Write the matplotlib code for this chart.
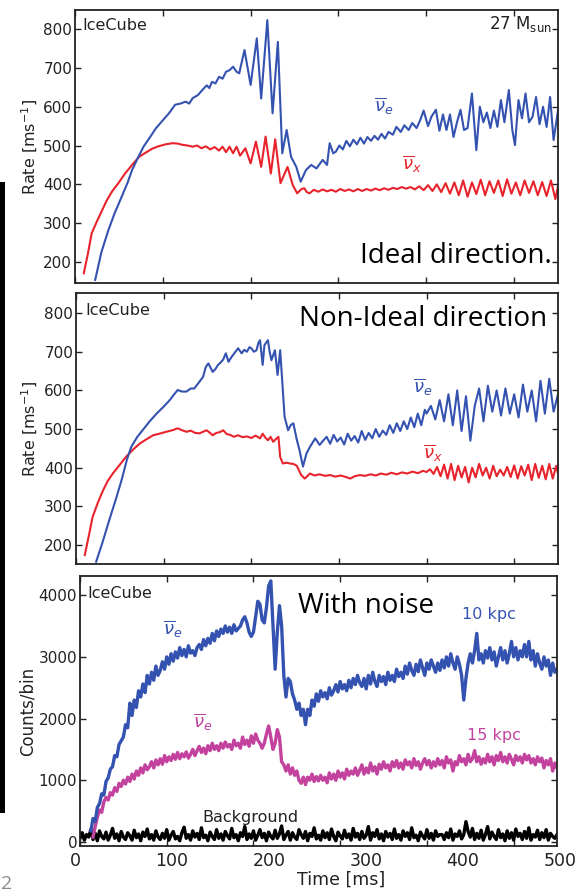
import numpy as np
import matplotlib
matplotlib.use('Agg')
import matplotlib.pyplot as plt
from matplotlib.patches import Rectangle

# ---- values (time in ms) ----

# panel 1: ideal direction, rate [1/ms]
ideal_nue_t = [23, 30, 38, 45, 52, 60, 65, 72, 78, 85, 92, 100, 107, 114, 120, 126, 130, 134, 140, 145,
               150, 153, 156, 160, 164, 168, 172, 176, 180, 184, 187, 193, 200, 207, 212, 219, 225, 231, 236, 241,
               246, 252, 257, 263, 269, 275, 282, 287, 290, 294, 297, 301, 305, 309, 313, 317, 321, 325, 329, 333,
               337, 341, 345, 349, 353, 357, 362, 366, 371, 375, 380, 384, 389, 393, 397, 402, 406, 411, 415, 419,
               423, 427, 431, 435, 439, 443, 447, 452, 457, 461, 465, 469, 473, 477, 481, 485, 489, 494, 498, 501,
               505, 509, 513, 517, 521, 525, 529, 533, 537, 541, 545, 550]
ideal_nue_rate = [154, 225, 282, 325, 362, 405, 437, 470, 497, 520, 544, 565, 583, 605, 608, 613, 608, 622, 630, 643,
                  655, 648, 664, 660, 677, 672, 690, 694, 703, 690, 686, 746, 656, 776, 621, 823, 583, 767, 480, 540,
                  471, 445, 407, 437, 450, 441, 463, 450, 506, 480, 484, 500, 490, 512, 498, 515, 503, 520, 505, 522,
                  512, 525, 515, 530, 518, 535, 528, 548, 535, 552, 540, 558, 545, 565, 590, 550, 575, 592, 538, 580,
                  540, 580, 522, 560, 592, 540, 545, 634, 488, 600, 560, 585, 545, 590, 548, 617, 560, 643, 540, 501,
                  617, 570, 634, 560, 574, 625, 555, 600, 548, 625, 514, 590]

ideal_nux_t = [10, 15, 19, 25, 31, 36, 42, 50, 57, 65, 73, 80, 88, 95, 103, 111, 117, 122, 128, 134,
               139, 144, 149, 154, 159, 164, 168, 172, 176, 180, 184, 188, 194, 200, 206, 212, 217, 223, 228, 234,
               242, 248, 253, 258, 261, 264, 267, 272, 277, 282, 287, 292, 297, 302, 307, 312, 317, 322, 327, 332,
               337, 342, 347, 352, 357, 362, 367, 372, 377, 382, 387, 392, 397, 402, 407, 412, 417, 422, 427, 432,
               437, 442, 447, 452, 457, 462, 467, 472, 477, 482, 487, 492, 497, 502, 507, 512, 517, 522, 527, 532,
               537, 542, 547, 550]
ideal_nux_rate = [171, 225, 274, 305, 334, 358, 381, 405, 428, 450, 471, 481, 492, 498, 503, 506, 505, 502, 500, 497,
                  500, 493, 498, 490, 496, 487, 497, 483, 497, 480, 497, 474, 493, 454, 510, 445, 523, 428, 516, 403,
                  445, 398, 377, 388, 390, 380, 377, 386, 381, 387, 382, 386, 381, 388, 383, 387, 382, 388, 383, 388,
                  384, 389, 385, 390, 386, 391, 388, 393, 389, 393, 387, 395, 385, 398, 383, 400, 380, 403, 376, 405,
                  372, 410, 368, 405, 375, 412, 372, 408, 378, 410, 370, 413, 376, 405, 372, 410, 378, 408, 372, 406,
                  370, 410, 362, 395]

# panel 2: non-ideal direction
nonideal_nue_t = [23, 30, 38, 45, 52, 58, 63, 70, 76, 84, 92, 100, 107, 112, 116, 121, 126, 131, 135, 140,
                  145, 148, 151, 156, 159, 162, 165, 168, 171, 174, 177, 179, 182, 185, 189, 192, 195, 198, 200, 203,
                  206, 208, 210, 213, 215, 219, 221, 223, 227, 230, 233, 236, 238, 242, 245, 248, 252, 255, 259, 263,
                  267, 273, 278, 282, 286, 290, 294, 298, 302, 306, 310, 314, 318, 322, 326, 330, 334, 338, 342, 346,
                  350, 354, 358, 362, 366, 370, 374, 378, 382, 386, 390, 394, 398, 400, 405, 410, 415, 420, 425, 430,
                  435, 440, 445, 450, 455, 460, 465, 470, 475, 480, 485, 490, 495, 500, 505, 510, 515, 520, 525, 530,
                  535, 540, 545, 550]
nonideal_nue_rate = [157, 205, 265, 315, 368, 420, 454, 480, 497, 520, 540, 558, 575, 590, 601, 597, 597, 605, 605, 620,
                     635, 660, 670, 648, 655, 666, 672, 680, 696, 674, 685, 691, 700, 709, 696, 705, 700, 712, 709, 700,
                     704, 722, 730, 666, 717, 730, 700, 678, 704, 640, 704, 601, 532, 497, 510, 515, 472, 446, 403, 437,
                     454, 476, 459, 470, 480, 462, 485, 468, 478, 460, 488, 470, 482, 465, 495, 472, 490, 476, 500, 480,
                     496, 485, 510, 490, 515, 495, 520, 500, 530, 505, 540, 510, 550, 540, 560, 525, 575, 520, 590, 510,
                     600, 495, 585, 470, 560, 605, 520, 612, 545, 600, 535, 605, 540, 590, 530, 615, 545, 600, 520, 625,
                     540, 630, 545, 590]

nonideal_nux_t = [10, 15, 19, 25, 31, 36, 42, 50, 57, 65, 73, 80, 88, 95, 103, 110, 116, 121, 126, 131,
                  136, 141, 145, 149, 153, 156, 160, 164, 168, 172, 176, 180, 185, 190, 195, 200, 205, 210, 213, 216,
                  219, 222, 225, 228, 231, 233, 236, 240, 244, 248, 252, 257, 261, 267, 272, 278, 284, 290, 296, 302,
                  308, 313, 318, 324, 330, 336, 342, 348, 354, 360, 366, 372, 378, 384, 390, 396, 400, 404, 408, 412,
                  416, 420, 424, 428, 432, 436, 440, 444, 448, 452, 456, 460, 464, 468, 472, 476, 480, 484, 488, 492,
                  496, 500, 504, 508, 512, 516, 520, 524, 528, 532, 536, 540, 544, 548, 550]
nonideal_nux_rate = [174, 228, 273, 310, 342, 365, 385, 408, 428, 447, 463, 473, 484, 488, 493, 497, 502, 497, 493, 496,
                     490, 489, 493, 497, 490, 484, 490, 492, 497, 487, 485, 480, 484, 479, 481, 477, 483, 476, 488, 478,
                     471, 480, 467, 474, 480, 428, 411, 413, 411, 410, 405, 381, 372, 385, 380, 383, 379, 381, 377, 380,
                     376, 372, 378, 381, 379, 383, 380, 385, 382, 387, 383, 388, 385, 390, 386, 392, 389, 396, 384, 402,
                     378, 408, 372, 410, 368, 405, 375, 402, 362, 400, 375, 410, 380, 400, 372, 405, 378, 395, 380, 402,
                     376, 406, 372, 404, 380, 408, 368, 410, 374, 405, 370, 410, 372, 405, 385]

# panel 3: with noise, counts per bin (2.5 ms bins)
t_10kpc = np.arange(12.5, 550.1, 2.5)
counts_10kpc = [180, 380, 330, 560, 620, 780, 760, 980, 1040, 1180, 1220, 1400, 1380, 1580, 1640, 1700, 1900, 1850, 2250, 2050,
                2300, 2180, 2450, 2350, 2560, 2420, 2700, 2560, 2750, 2620, 2850, 2700, 2780, 2920, 2800, 3000, 2880, 3050, 2930, 3080,
                2980, 3150, 3020, 3120, 3000, 3180, 3060, 3100, 3020, 3150, 3200, 3120, 3280, 3180, 3300, 3220, 3380, 3260, 3420, 3330,
                3450, 3380, 3500, 3400, 3480, 3380, 3520, 3420, 3460, 3500, 3600, 3650, 3550, 3400, 3330, 3400, 3650, 3900, 3850, 3600,
                3550, 3800, 4150, 4230, 3500, 2800, 3400, 3830, 3500, 2700, 2350, 2650, 2600, 2400, 2300, 2150, 2250, 2050, 2150, 1900,
                2150, 2050, 2300, 2200, 2400, 2280, 2450, 2350, 2420, 2320, 2500, 2380, 2450, 2550, 2430, 2600, 2480, 2550, 2450, 2620,
                2500, 2650, 2550, 2700, 2580, 2520, 2650, 2480, 2700, 2560, 2750, 2600, 2520, 2700, 2600, 2680, 2550, 2750, 2620, 2700,
                2600, 2800, 2680, 2750, 2650, 2850, 2720, 2900, 2780, 2700, 2880, 2760, 2950, 2820, 2700, 2900, 2800, 2950, 2850, 2750,
                2900, 2780, 2950, 2820, 3000, 2850, 3050, 2900, 2800, 3000, 2880, 2700, 2300, 2650, 2900, 3050, 2900, 3100, 3380, 2950,
                3050, 2900, 3100, 2980, 3150, 2950, 3080, 2850, 3000, 3150, 2950, 3100, 2900, 3050, 3250, 3000, 3150, 2950, 3100, 3000,
                3200, 3000, 3250, 2950, 3100, 2850, 3050, 2900, 2800, 3000, 2850, 2950, 2700, 2900, 2750, 2800]

t_15kpc = np.arange(15, 550.1, 2.5)
counts_15kpc = [80, 250, 400, 520, 480, 650, 720, 680, 800, 760, 880, 820, 950, 900, 1000, 940, 1050, 980, 1100, 1020,
                1150, 1080, 1200, 1120, 1250, 1170, 1220, 1300, 1200, 1330, 1250, 1350, 1260, 1400, 1300, 1380, 1320, 1420, 1340, 1450,
                1350, 1430, 1380, 1460, 1360, 1420, 1500, 1400, 1480, 1550, 1450, 1520, 1430, 1560, 1480, 1600, 1500, 1560, 1480, 1600,
                1520, 1620, 1540, 1580, 1500, 1650, 1560, 1600, 1520, 1700, 1580, 1650, 1550, 1720, 1600, 1750, 1650, 1600, 1520, 1600,
                1750, 1880, 1700, 1500, 1600, 1820, 1700, 1300, 1250, 1150, 1250, 1100, 1200, 1080, 1150, 1000, 950, 1050, 930, 1050,
                1000, 1100, 980, 1060, 990, 1080, 1000, 1050, 960, 1120, 1020, 1100, 1000, 1150, 1050, 1120, 1020, 1180, 1080, 1150,
                1100, 1200, 1080, 1160, 1250, 1100, 1200, 1120, 1280, 1150, 1220, 1100, 1260, 1180, 1300, 1200, 1250, 1150, 1300, 1220,
                1320, 1200, 1280, 1180, 1330, 1250, 1300, 1200, 1350, 1240, 1300, 1180, 1280, 1350, 1250, 1320, 1200, 1300, 1230, 1350,
                1250, 1320, 1200, 1380, 1280, 1330, 1150, 1300, 1250, 1400, 1300, 1350, 1250, 1420, 1300, 1350, 1480, 1300, 1380, 1260,
                1350, 1280, 1420, 1300, 1380, 1250, 1400, 1320, 1450, 1300, 1380, 1280, 1420, 1340, 1250, 1400, 1320, 1380, 1280, 1420,
                1330, 1400, 1280, 1350, 1250, 1380, 1300, 1360, 1200, 1320, 1250, 1350, 1150, 1280, 1200]

t_bkg = np.arange(0, 550.1, 2.5)
counts_bkg = [60, 150, 30, 120, 80, 200, 40, 140, 20, 180, 90, 50, 160, 30, 110, 220, 60, 130, 20, 170,
              80, 40, 150, 100, 30, 190, 70, 130, 20, 160, 90, 210, 50, 120, 30, 180, 80, 40, 140, 60,
              200, 30, 110, 170, 50, 90, 20, 150, 240, 60, 120, 30, 180, 80, 140, 40, 230, 70, 110, 20,
              160, 90, 40, 200, 60, 130, 30, 170, 100, 50, 220, 70, 120, 20, 150, 90, 250, 40, 130, 60,
              180, 30, 110, 200, 70, 140, 20, 160, 90, 50, 190, 60, 130, 260, 40, 110, 170, 30, 150, 80,
              40, 200, 120, 60, 170, 20, 140, 90, 230, 50, 110, 30, 180, 70, 150, 40, 210, 90, 20, 160,
              100, 50, 190, 70, 130, 30, 220, 80, 140, 40, 170, 60, 110, 250, 30, 150, 90, 200, 50, 130,
              20, 170, 80, 140, 40, 210, 60, 120, 30, 180, 90, 150, 40, 230, 70, 110, 20, 160, 100, 50,
              200, 60, 140, 30, 180, 90, 120, 120, 40, 150, 70, 210, 30, 130, 90, 180, 50, 120, 330, 170,
              80, 220, 40, 140, 60, 190, 30, 120, 250, 50, 160, 90, 40, 200, 70, 130, 20, 180, 60, 150,
              30, 210, 90, 140, 40, 170, 60, 230, 30, 120, 80, 190, 40, 150, 70, 200, 30, 140, 90, 60, 120]

time_ticks = [0, 100, 200, 300, 400, 500]

# ---- style ----
plt.rcParams['font.family'] = 'DejaVu Sans'
plt.rcParams['mathtext.fontset'] = 'dejavusans'

blue = '#3452b0'
red = '#e8232b'
magenta = '#c2429e'
ink = '#222222'
big_font = 'Open Sans'

W, H = 576, 892
fig = plt.figure(figsize=(W / 100, H / 100), dpi=100)


def box(l, t, r, b):
    # pixel box -> figure fraction rect
    return [l / W, (H - b) / H, (r - l) / W, (b - t) / H]


def style(ax, ylim, yticks):
    ax.set_xlim(0, 550)
    ax.set_ylim(*ylim)
    ax.set_xticks(time_ticks)
    ax.set_yticks(yticks)
    ax.tick_params(direction='in', top=True, right=True, length=4, width=1.0,
                   labelbottom=False, labelsize=11, pad=2, color=ink, labelcolor=ink)
    for s in ax.spines.values():
        s.set_linewidth(1.3)
        s.set_color(ink)


ax1 = fig.add_axes(box(75, 10, 558, 283))
ax2 = fig.add_axes(box(76, 293, 558, 564))
ax3 = fig.add_axes(box(80, 576, 557, 846))

rate_ticks = [200, 300, 400, 500, 600, 700, 800]

# panel 1
ax1.plot(ideal_nux_t, ideal_nux_rate, color=red, lw=1.5)
ax1.plot(ideal_nue_t, ideal_nue_rate, color=blue, lw=1.5)
style(ax1, (146, 849), rate_ticks)
ax1.set_ylabel('Rate [ms$^{-1}$]', fontsize=11.5, color=ink)
ax1.yaxis.set_label_coords(-0.072, 0.5)
ax1.text(0.015, 0.945, 'IceCube', transform=ax1.transAxes, fontsize=11.5, va='center', color=ink)
ax1.text(0.988, 0.93, r'27 M$_{\rm sun}$', transform=ax1.transAxes, fontsize=12, ha='right',
         va='baseline', color=ink)
ax1.text(0.988, 0.073, 'Ideal direction.', transform=ax1.transAxes, fontsize=20, ha='right',
         va='baseline', family=big_font)
ax1.text(0.619, 0.626, r'$\overline{\nu}_e$', transform=ax1.transAxes, fontsize=13, color=blue, va='baseline')
ax1.text(0.677, 0.414, r'$\overline{\nu}_x$', transform=ax1.transAxes, fontsize=13, color=red, va='baseline')

# panel 2
ax2.plot(nonideal_nux_t, nonideal_nux_rate, color=red, lw=1.5)
ax2.plot(nonideal_nue_t, nonideal_nue_rate, color=blue, lw=1.5)
style(ax2, (151, 852), rate_ticks)
ax2.set_ylabel('Rate [ms$^{-1}$]', fontsize=11.5, color=ink)
ax2.yaxis.set_label_coords(-0.074, 0.5)
ax2.text(0.019, 0.937, 'IceCube', transform=ax2.transAxes, fontsize=11.5, va='center', color=ink)
ax2.text(0.977, 0.878, 'Non-Ideal direction', transform=ax2.transAxes, fontsize=20, ha='right',
         va='baseline', family=big_font)
ax2.text(0.699, 0.631, r'$\overline{\nu}_e$', transform=ax2.transAxes, fontsize=13, color=blue, va='baseline')
ax2.text(0.72, 0.387, r'$\overline{\nu}_x$', transform=ax2.transAxes, fontsize=13, color=red, va='baseline')

# panel 3
ax3.plot(t_bkg, counts_bkg, color='black', lw=2.4)
ax3.plot(t_15kpc, counts_15kpc, color=magenta, lw=2.4)
ax3.plot(t_10kpc, counts_10kpc, color=blue, lw=2.4)
style(ax3, (-65, 4310), [0, 1000, 2000, 3000, 4000])
ax3.set_ylabel('Counts/bin', fontsize=12, color=ink)
ax3.yaxis.set_label_coords(-0.09, 0.5)
ax3.text(0.015, 0.937, 'IceCube', transform=ax3.transAxes, fontsize=11.5, va='center', color=ink)
ax3.text(0.457, 0.863, 'With noise', transform=ax3.transAxes, fontsize=20, va='baseline', family=big_font)
ax3.text(0.174, 0.781, r'$\overline{\nu}_e$', transform=ax3.transAxes, fontsize=13, color=blue, va='baseline')
ax3.text(0.237, 0.437, r'$\overline{\nu}_e$', transform=ax3.transAxes, fontsize=13, color=magenta, va='baseline')
ax3.text(0.801, 0.856, '10 kpc', transform=ax3.transAxes, fontsize=11.5, color=blue, va='center')
ax3.text(0.811, 0.411, '15 kpc', transform=ax3.transAxes, fontsize=11.5, color=magenta, va='center')
ax3.text(0.256, 0.104, 'Background', transform=ax3.transAxes, fontsize=11.5, color=ink, va='center')

# time labels sit on their own scale under the bottom panel
axt = fig.add_axes(box(75, 845, 560, 846))
axt.set_xlim(0, 500)
axt.set_xticks(time_ticks)
axt.set_yticks([])
axt.patch.set_alpha(0)
for s in axt.spines.values():
    s.set_visible(False)
axt.tick_params(axis='x', length=0, labelsize=12.5, pad=4, labelcolor=ink)
fig.text(341 / W, (H - 880) / H, 'Time [ms]', fontsize=12.5, ha='center', va='center', color=ink)

# black bar on the left edge and page number at the bottom
fig.patches.append(Rectangle((0, (H - 813) / H), 5 / W, 631 / H, transform=fig.transFigure,
                             facecolor='black', edgecolor='none'))
fig.text(1 / W, (H - 875) / H, '2', fontsize=14, color='#8a8a8a', va='top', ha='left', family=big_font)

fig.savefig('out.png', dpi=100)
